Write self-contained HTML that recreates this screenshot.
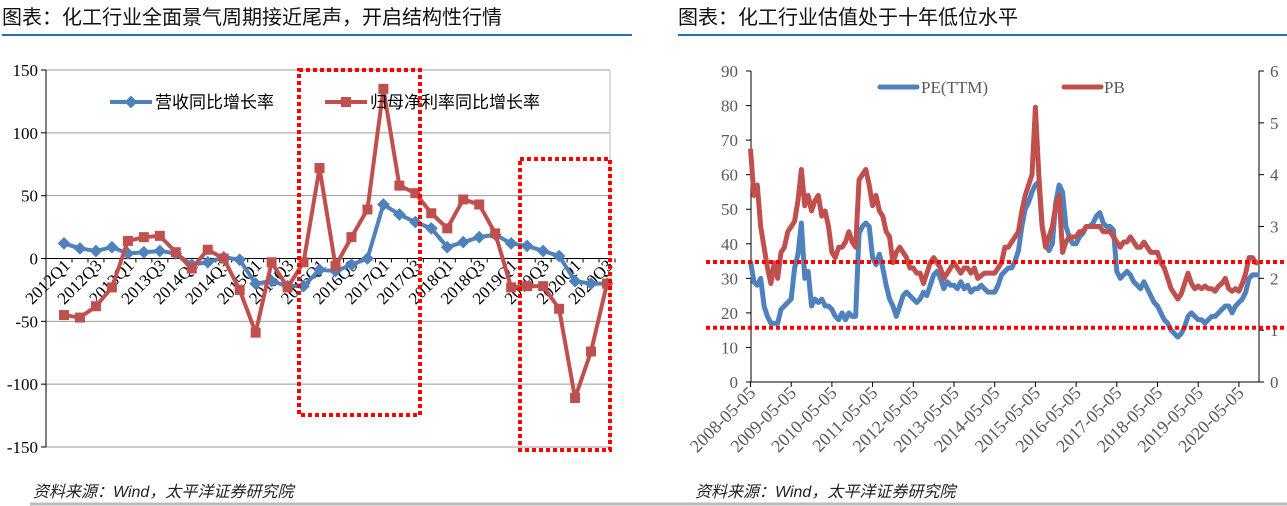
<!DOCTYPE html>
<html><head><meta charset="utf-8"><style>
html,body{margin:0;padding:0;background:#fff;}
svg{display:block;}
</style></head><body>
<svg id="root" width="1287" height="506" xmlns="http://www.w3.org/2000/svg">
<text x="2" y="24" font-family="'Liberation Sans','Noto Sans CJK SC',sans-serif" font-size="20" fill="#111">图表：化工行业全面景气周期接近尾声，开启结构性行情</text>
<line x1="2" y1="35" x2="632" y2="35" stroke="#1f6fbf" stroke-width="2"/>
<text x="678" y="24" font-family="'Liberation Sans','Noto Sans CJK SC',sans-serif" font-size="20" fill="#111">图表：化工行业估值处于十年低位水平</text>
<line x1="678" y1="35" x2="1287" y2="35" stroke="#1f6fbf" stroke-width="2"/>
<text x="33" y="497" font-family="'Liberation Sans','Noto Sans CJK SC',sans-serif" font-size="16" font-style="italic" fill="#222">资料来源：Wind，太平洋证券研究院</text>
<text x="695" y="497" font-family="'Liberation Sans','Noto Sans CJK SC',sans-serif" font-size="16" font-style="italic" fill="#222">资料来源：Wind，太平洋证券研究院</text>
<line x1="30" y1="504" x2="1287" y2="504" stroke="#bbb" stroke-width="3"/>
<g id="left"></g>
<g id="right"></g>
</svg>
<script>
const quarters = ["2012Q1","2012Q2","2012Q3","2012Q4","2013Q1","2013Q2","2013Q3","2013Q4","2014Q1","2014Q2","2014Q3","2014Q4","2015Q1","2015Q2","2015Q3","2015Q4","2016Q1","2016Q2","2016Q3","2016Q4","2017Q1","2017Q2","2017Q3","2017Q4","2018Q1","2018Q2","2018Q3","2018Q4","2019Q1","2019Q2","2019Q3","2019Q4","2020Q1","2020Q2","2020Q3"];
const revenueGrowth = [12,8,6,9,4,5,6,4,-5,-3,1,-1,-20,-18,-22,-22,-9,-10,-5,0,43,35,29,24,9,13,17,19,12,10,6,2,-18,-20,-20];
const profitGrowth = [-45,-47,-38,-23,14,17,18,5,-8,7,0,-25,-59,-3,-23,-3,72,-6,17,39,135,58,52,36,24,47,43,20,-23,-22,-22,-40,-111,-74,-20];
const leftTicks = [150,100,50,0,-50,-100,-150];

const peValues = [35,29,28,30,22,19,17,17,17,21,22,23,
24,33,37,46,30,32,22,24,23,24,22,22,
21,19,18,20,18,20,19,19,43,45,46,45,
36,34,37,33,28,24,22,19,22,25,26,25,
24,23,24,26,25,28,31,32,30,27,29,28,
28,27,29,27,28,26,27,27,28,27,26,26,
26,28,31,32,33,33,35,38,45,50,52,55,
57,58,45,40,38,40,52,57,55,45,42,40,
40,42,43,45,45,46,48,49,46,45,45,44,
32,30,31,32,31,29,28,27,29,27,25,23,
22,20,18,17,15,14,13,14,16,19,20,19,
18,18,17,18,19,19,20,21,22,22,20,22,
23,24,26,30,31,31,31];
const pbValues = [4.5,3.6,3.8,3.0,2.6,2.2,1.9,2.3,2.0,2.5,2.6,2.9,
3.0,3.1,3.5,4.1,3.4,3.6,3.3,3.5,3.6,3.2,3.3,3.0,
2.5,2.4,2.6,2.6,2.7,2.9,2.7,2.6,3.9,4.0,4.1,3.8,
3.4,3.6,3.3,3.2,2.9,2.8,2.3,2.5,2.6,2.5,2.4,2.2,
2.2,2.1,2.1,1.9,2.1,2.3,2.4,2.3,2.2,2.0,2.1,2.2,
2.3,2.2,2.1,2.2,2.2,2.1,2.2,2.0,2.05,2.1,2.1,2.1,
2.1,2.2,2.3,2.6,2.6,2.7,2.8,2.9,3.3,3.6,3.8,4.0,
5.3,4.0,3.0,2.6,2.8,3.0,3.4,3.6,2.5,2.7,2.8,2.8,
2.8,2.9,2.9,3.0,3.0,3.0,3.0,3.0,2.9,2.9,2.9,2.8,
2.7,2.6,2.7,2.7,2.8,2.7,2.6,2.6,2.7,2.6,2.5,2.5,
2.5,2.3,2.2,2.0,1.8,1.7,1.6,1.7,1.9,2.1,1.9,1.8,
1.85,1.8,1.85,1.8,1.8,1.75,1.85,1.9,2.0,1.8,1.75,1.8,
1.75,1.9,2.1,2.4,2.4,2.3,2.3];
const dateLabels = ["2008-05-05","2009-05-05","2010-05-05","2011-05-05","2012-05-05","2013-05-05","2014-05-05","2015-05-05","2016-05-05","2017-05-05","2018-05-05","2019-05-05","2020-05-05"];
const peTicks = [0,10,20,30,40,50,60,70,80,90];
const pbTicks = [0,1,2,3,4,5,6];
const refLevels = [35,16];

const NS="http://www.w3.org/2000/svg";
function mk(parent,tag,attrs,text){const e=document.createElementNS(NS,tag);for(const k in attrs)e.setAttribute(k,attrs[k]);if(text!==undefined)e.textContent=text;parent.appendChild(e);return e;}
const SERIF="'Liberation Serif','Noto Serif CJK SC',serif";
const CJK="'Liberation Serif','Noto Sans CJK SC',sans-serif";

// ---------- left chart ----------
const L=document.getElementById('left');
const lx=i=>64+i*(607-64)/(quarters.length-1);
const ly=v=>258.5-v*(62.83/50);
leftTicks.forEach(t=>{
  const g=mk(L,'line',{x1:46,x2:610,y1:ly(t),y2:ly(t),stroke:'#999','stroke-width':1});
  
  
  const tk=mk(L,'line',{x1:41,x2:46,y1:ly(t),y2:ly(t),stroke:'#000'});
  
  
  const tx=mk(L,'text',{x:38,y:ly(t)+6,'text-anchor':'end','font-family':SERIF,'font-size':17,fill:'#000'},String(t));
  
  
});
let ax=mk(L,'line',{x1:46,x2:46,y1:70,y2:447,stroke:'#000'});


let rb=mk(L,'line',{x1:610,x2:610,y1:70,y2:447,stroke:'#bbb'});


let xa=mk(L,'line',{x1:46,x2:610,y1:ly(0),y2:ly(0),stroke:'#000'});


quarters.forEach((q,i)=>{
  const tk=mk(L,'line',{x1:lx(i)+8,x2:lx(i)+8,y1:ly(0),y2:ly(0)+4,stroke:'#000'});
  
  
  if(i%2===0){
    const x=lx(i)+7,y=ly(0)+8;
    const t=mk(L,'text',{x:x,y:y,'text-anchor':'end','font-family':SERIF,'font-size':17,fill:'#000',transform:`rotate(-45 ${x} ${y})`},q);
    
    
  }
});
function series(parent,vals,xf,yf,color,name,marker,w){
  const p=mk(parent,'polyline',{points:vals.map((v,i)=>xf(i)+','+yf(v)).join(' '),fill:'none',stroke:color,'stroke-width':w||4,'stroke-linejoin':'round'});
  
  
  if(marker) vals.forEach((v,i)=>{
    let m;
    if(marker==='diamond') m=mk(parent,'rect',{x:xf(i)-4.5,y:yf(v)-4.5,width:9,height:9,fill:color,transform:`rotate(45 ${xf(i)} ${yf(v)})`});
    else m=mk(parent,'rect',{x:xf(i)-5,y:yf(v)-5,width:10,height:10,fill:color});
    
    
  });
}
series(L,revenueGrowth,lx,ly,'#4f81bd','revenue-growth','diamond');
series(L,profitGrowth,lx,ly,'#c0504d','profit-growth','square');
let lg=mk(L,'line',{x1:110,x2:152,y1:102,y2:102,stroke:'#4f81bd','stroke-width':4});

let lm=mk(L,'rect',{x:126.5,y:97.5,width:9,height:9,fill:'#4f81bd',transform:'rotate(45 131 102)'});

let lt=mk(L,'text',{x:155,y:108,'font-family':CJK,'font-size':17,fill:'#000'},'营收同比增长率');

let lg2=mk(L,'line',{x1:325,x2:367,y1:102,y2:102,stroke:'#c0504d','stroke-width':4});

let lm2=mk(L,'rect',{x:341,y:97,width:10,height:10,fill:'#c0504d'});

let lt2=mk(L,'text',{x:370,y:108,'font-family':CJK,'font-size':17,fill:'#000'},'归母净利率同比增长率');

let b1=mk(L,'rect',{x:299,y:70,width:121,height:345,fill:'none',stroke:'#f00','stroke-width':4,'stroke-dasharray':'4 3'});

let b2=mk(L,'rect',{x:520,y:159,width:90,height:291,fill:'none',stroke:'#f00','stroke-width':4,'stroke-dasharray':'4 3'});


// ---------- right chart ----------
const R=document.getElementById('right');
const X0=750.5, YEAR=40.7;
const rx=m=>X0+m*YEAR/12;
const ryL=v=>382-v*(311/90);
const ryR=v=>382-v*(311/6);
peTicks.forEach(t=>{
  const tk=mk(R,'line',{x1:746,x2:751,y1:ryL(t),y2:ryL(t),stroke:'#000'});
  
  const tx=mk(R,'text',{x:738,y:ryL(t)+6,'text-anchor':'end','font-family':SERIF,'font-size':17,fill:'#595959'},String(t));
  
});
pbTicks.forEach(t=>{
  const tk=mk(R,'line',{x1:1259,x2:1264,y1:ryR(t),y2:ryR(t),stroke:'#000'});
  
  const tx=mk(R,'text',{x:1270,y:ryR(t)+6,'font-family':SERIF,'font-size':17,fill:'#595959'},String(t));
  
});
let ra=mk(R,'line',{x1:751,x2:751,y1:71,y2:382,stroke:'#000'});

let ra2=mk(R,'line',{x1:1259,x2:1259,y1:71,y2:382,stroke:'#000'});

let rxa=mk(R,'line',{x1:751,x2:1259,y1:382,y2:382,stroke:'#000'});

dateLabels.forEach((d,i)=>{
  const x=rx(i*12);
  const tk=mk(R,'line',{x1:x,x2:x,y1:382,y2:387,stroke:'#000'});
  
  const y=394;
  const t=mk(R,'text',{x:x+6,y:y,'text-anchor':'end','font-family':SERIF,'font-size':18,fill:'#595959',transform:`rotate(-45 ${x+6} ${y})`},d);
  
});
series(R,peValues,rx,ryL,'#4f81bd','pe-ttm',null,5);
series(R,pbValues,rx,ryR,'#c0504d','pb',null,5);
refLevels.forEach(v=>{
  const l=mk(R,'line',{x1:706,x2:1287,y1:ryL(v)+1,y2:ryL(v)+1,stroke:'#f00','stroke-width':4,'stroke-dasharray':'4 3'});
  
});
let pl=mk(R,'line',{x1:880,x2:917,y1:87,y2:87,stroke:'#4f81bd','stroke-width':5,'stroke-linecap':'round'});

let pt=mk(R,'text',{x:921,y:93,'font-family':SERIF,'font-size':17,fill:'#595959'},'PE(TTM)');

let bl=mk(R,'line',{x1:1064,x2:1101,y1:87,y2:87,stroke:'#c0504d','stroke-width':5,'stroke-linecap':'round'});

let bt=mk(R,'text',{x:1104,y:93,'font-family':SERIF,'font-size':17,fill:'#595959'},'PB');

</script>
</body></html>
